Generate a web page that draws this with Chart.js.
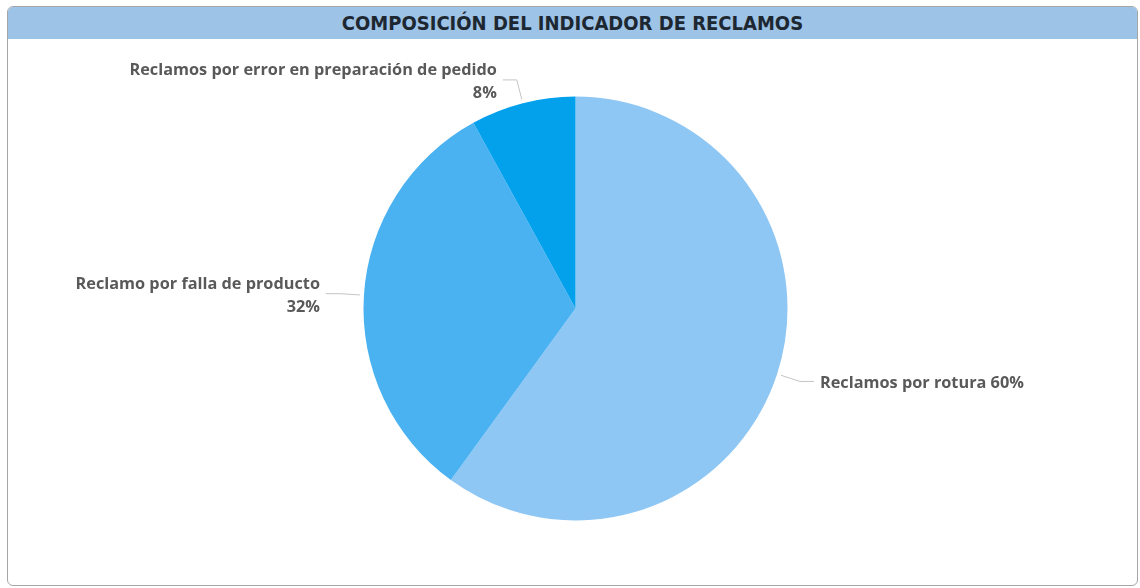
<!DOCTYPE html>
<html lang="es">
<head>
<meta charset="utf-8">
<title>Composición del indicador de reclamos</title>
<script src="https://cdn.jsdelivr.net/npm/chart.js@4/dist/chart.umd.min.js"></script>
<style>
    html, body { margin: 0; padding: 0; background: #ffffff; }
    body { width: 1140px; height: 588px; position: relative; overflow: hidden; }
    .card {
        position: absolute; left: 7px; top: 6px; width: 1129px; height: 578px;
        border: 1px solid #a6a6a6; border-radius: 6px; overflow: hidden; background: #fff;
    }
    .card-header {
        height: 32px; line-height: 32px; background: #9dc3e6; text-align: center;
        font-family: "DejaVu Sans Condensed", "DejaVu Sans", sans-serif; font-weight: bold;
        font-size: 20px; color: #1d2731;
    }
    #chart-wrap { position: absolute; left: 0; top: 0; width: 1140px; height: 588px; }
</style>
</head>
<body>
<div class="card"><div class="card-header">COMPOSICIÓN DEL INDICADOR DE RECLAMOS</div></div>
<div id="chart-wrap"><canvas id="reclamosChart"></canvas></div>

<script>
// --- DONNÉES ---
const categorias = [
    'Reclamos por rotura',
    'Reclamo por falla de producto',
    'Reclamos por error en preparación de pedido'
];
const valores = [60, 32, 8];
const colores = ['#8ec6f4', '#4bb2f1', '#03a0ec'];

// --- ÉTIQUETTES AVEC LIGNES DE RAPPEL ---
const labelFont = 'bold 16.3px "Open Sans", sans-serif';
const lineGap = 23;

const leaderLabels = {
    id: 'leaderLabels',
    afterDatasetsDraw(chart) {
        const ctx = chart.ctx;
        const meta = chart.getDatasetMeta(0);
        const total = valores.reduce((a, b) => a + b, 0);
        ctx.save();
        ctx.font = labelFont;
        meta.data.forEach((arc, i) => {
            const p = arc.getProps(['x', 'y', 'startAngle', 'endAngle', 'outerRadius'], true);
            const mid = (p.startAngle + p.endAngle) / 2;
            const cos = Math.cos(mid), sin = Math.sin(mid);
            const right = cos >= 0;
            const x0 = p.x + (p.outerRadius + 4) * cos, y0 = p.y + (p.outerRadius + 4) * sin;
            const x1 = p.x + (p.outerRadius + 24) * cos, y1 = p.y + (p.outerRadius + 24) * sin;
            const x2 = x1 + (right ? 14 : -14);

            ctx.strokeStyle = '#c4c4c4';
            ctx.lineWidth = 1;
            ctx.beginPath();
            ctx.moveTo(x0, y0); ctx.lineTo(x1, y1); ctx.lineTo(x2, y1);
            ctx.stroke();

            // texte : nom + pourcentage, retour à la ligne si trop long
            const pct = Math.round(valores[i] / total * 100) + '%';
            const oneLine = categorias[i] + ' ' + pct;
            const lines = ctx.measureText(oneLine).width <= 260 ? [oneLine] : [categorias[i], pct];
            const tx = x2 + (right ? 6 : -6);
            ctx.fillStyle = '#595959';
            ctx.textAlign = right ? 'left' : 'right';
            ctx.textBaseline = 'middle';
            const top = y1 + 2 - (lines.length - 1) * lineGap / 2;
            lines.forEach((t, k) => ctx.fillText(t, tx, top + k * lineGap));
        });
        ctx.restore();
    }
};

new Chart(document.getElementById('reclamosChart'), {
    type: 'pie',
    data: {
        labels: categorias,
        datasets: [{
            data: valores,
            backgroundColor: colores,
            borderWidth: 0
        }]
    },
    options: {
        responsive: true,
        maintainAspectRatio: false,
        animation: false,
        radius: 212,
        layout: { padding: { left: 11, top: 29 } },
        plugins: { legend: { display: false }, tooltip: { enabled: false } }
    },
    plugins: [leaderLabels]
});
</script>
</body>
</html>
